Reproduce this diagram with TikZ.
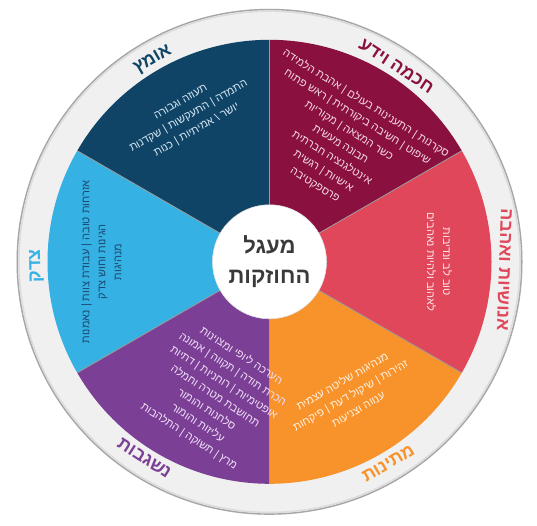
\documentclass[tikz,border=0pt]{standalone}
\usepackage{fontspec}
\newfontfamily\heb[Script=Hebrew]{Liberation Sans}
\TeXXeTstate=1
\definecolor{cWis}{HTML}{8A1040}
\definecolor{cHum}{HTML}{E1475A}
\definecolor{cTem}{HTML}{F8922B}
\definecolor{cTra}{HTML}{7C3F96}
\definecolor{cJus}{HTML}{36B1E3}
\definecolor{cCou}{HTML}{0F4466}
\definecolor{ringc}{HTML}{F0F0F0}
\definecolor{ringedge}{HTML}{A6A6A6}
\definecolor{ringin}{HTML}{DCDCDC}
\definecolor{divc}{HTML}{9C9C9C}
\definecolor{tWis}{HTML}{F4D6E1}
\definecolor{tCou}{HTML}{D6E6F2}
\definecolor{tHum}{HTML}{FDE4E7}
\definecolor{tTem}{HTML}{FFF2E0}
\definecolor{tTra}{HTML}{EFDFF6}
\definecolor{tJus}{HTML}{1A4A72}
\definecolor{tCen}{HTML}{3A3A3A}
\newcommand\RL[1]{\beginR #1\endR}
\begin{document}
\begin{tikzpicture}[x=1pt,y=1pt,
  ttl/.style={font=\heb\bfseries\fontsize{18}{20}\selectfont, inner sep=0pt},
  body/.style={font=\heb\fontsize{11}{16}\selectfont, align=center, inner sep=0pt},
  divider/.style={draw=divc, line width=0.8pt}
]
\path[use as bounding box] (0,0) rectangle (537,525);
\fill[white] (0,0) rectangle (537,525);
\begin{scope}[shift={(269.5,263.2)}]
  \fill[ringc] (0,0) circle (253pt);
  \draw[ringedge, line width=1.4pt] (0,0) circle (252.3pt);
  \draw[ringin, line width=1.5pt] (0,0) circle (250.6pt);
  \fill[cWis] (0,0) -- (30:222pt) arc[start angle=30,end angle=90,radius=222pt] -- cycle;
  \fill[cCou] (0,0) -- (90:222pt) arc[start angle=90,end angle=150,radius=222pt] -- cycle;
  \fill[cJus] (0,0) -- (150:222pt) arc[start angle=150,end angle=210,radius=222pt] -- cycle;
  \fill[cTra] (0,0) -- (210:222pt) arc[start angle=210,end angle=270,radius=222pt] -- cycle;
  \fill[cTem] (0,0) -- (270:222pt) arc[start angle=270,end angle=330,radius=222pt] -- cycle;
  \fill[cHum] (0,0) -- (330:222pt) arc[start angle=330,end angle=390,radius=222pt] -- cycle;
  \foreach \a in {30,90,...,330} \draw[divider] (0,0) -- (\a:222pt);
  \fill[white] (0,0) circle (57pt);
  \draw[black!12, line width=0.6pt] (0,0) circle (57pt);
  \node[font=\heb\bfseries\fontsize{22}{30}\selectfont, align=center, text=tCen] (center) at (0,0) {\RL{מעגל}\\\RL{החוזקות}};
  % titles
  \node[ttl, text=cWis, rotate=-33] (tWisdom) at (57:233pt) {\RL{חכמה וידע}};
  \node[ttl, text=cCou, rotate=30] (tCourage) at (120:233pt) {\RL{אומץ}};
  \node[ttl, text=cJus, rotate=91] (tJustice) at (181:233pt) {\RL{צדק}};
  \node[ttl, text=cTra, rotate=-32.5] (tTrans) at (237.5:233pt) {\RL{נשגבות}};
  \node[ttl, text=cTem, rotate=30.5] (tTemp) at (-59.5:234pt) {\RL{מתינות}};
  \node[ttl, text=cHum, rotate=-92] (tHuman) at (-2:235pt) {\RL{אנושיות ואהבה}};
  % bodies
  \node[body, text=tWis, rotate=-32] (bWisdom) at (58.9:137.6pt) {\RL{סקרנות | התענינות בעולם | אהבת הלמידה}\\\RL{שיפוט | חשיבה ביקורתית | ראש פתוח}\\\RL{כשר המצאה | מקוריות}\\\RL{תבונה מעשית}\\\RL{אינטלגנציה חברתית}\\\RL{אישיות | רגשית}\\\RL{פרספקטיבה}};
  \node[body, text=tCou, rotate=30] (bCourage) at (119:166pt) {\RL{תעוזה וגבורה}\\\RL{התמדה | התעקשות | שקדנות}\\\RL{יושר \textbackslash{} אמיתיות | כנות}};
  \node[body, text=tHum, rotate=-90] (bHuman) at (0:170pt) {\RL{טוב לב ונדיבות}\\\RL{לאהוב ולהיות נאהבים}};
  \node[body, text=tTem, rotate=30] (bTemp) at (-58.8:155.6pt) {\RL{מנהיגות שליטה עצמית}\\\RL{זהירות | שיקול דעת | פיקחות}\\\RL{ענווה וצניעות}};
  \node[body, text=tTra, rotate=-33] (bTrans) at (-112:145pt) {\RL{הערכה ליופי ומצוינות}\\\RL{הכרת תודה | תקווה | אמונה}\\\RL{אופטימיות | רוחניות | דתיות}\\\RL{תחושבת מטרה וחמלה}\\\RL{סלחנות והומור}\\\RL{עליזות והומור}\\\RL{מרץ | תשוקה | התלהבות}};
  \node[body, text=tJus, rotate=90] (bJustice) at (180:168pt) {\RL{אזרחות טובה | עבודת צוות | נאמנות}\\\RL{הגינות וחוש צדק}\\\RL{מנהיגות}};
\end{scope}
\end{tikzpicture}
\end{document}
